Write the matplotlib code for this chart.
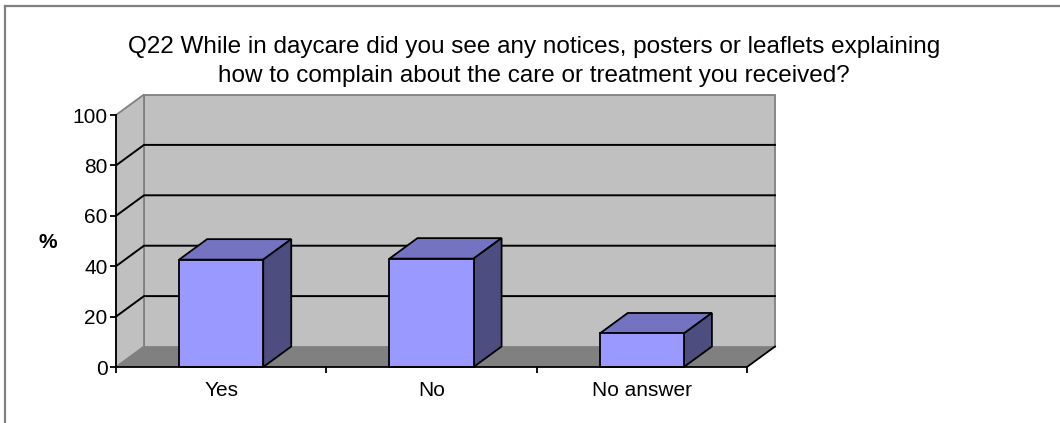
import numpy as np
import matplotlib
matplotlib.use("Agg")
import matplotlib.pyplot as plt
from matplotlib.patches import Polygon
from matplotlib.lines import Line2D

plt.rcParams['font.family'] = ['Liberation Sans', 'DejaVu Sans']

# data
categories = ["Yes", "No", "No answer"]
values = [42.6, 43.0, 13.3]
yticks = [0, 20, 40, 60, 80, 100]
title = ("Q22 While in daycare did you see any notices, posters or leaflets explaining\n"
         "how to complain about the care or treatment you received?")

# colours
front_c = "#9999FF"
top_c = "#7373C2"
side_c = "#4D4D80"
wall_c = "#C0C0C0"
floor_c = "#808080"
edge_gray = "#808080"

W, H = 1060, 423
fig = plt.figure(figsize=(W / 100, H / 100), dpi=100)

# outer frame (top and left visible)
fig.add_artist(Line2D([5 / W, 5 / W], [0, 1 - 6 / H], color=edge_gray, lw=1.6))
fig.add_artist(Line2D([5 / W, 1], [1 - 6 / H, 1 - 6 / H], color=edge_gray, lw=1.6))

ax = fig.add_axes([116 / W, 1 - 367 / H, 631 / W, 252 / H])
ax.set_xlim(0, len(categories))
ax.set_ylim(0, 100)
ax.patch.set_visible(False)

# depth of the 3d box in data units
DX = 28 / (631 / len(categories))
DY = 20.5 / 2.52
n = len(categories)
lw = 1.3

# walls and floor
ax.add_patch(Polygon([(0, 0), (n, 0), (n + DX, DY), (DX, DY)], closed=True,
                     fc=floor_c, ec="none", clip_on=False, zorder=1))
ax.add_patch(Polygon([(DX, DY), (n + DX, DY), (n + DX, 100 + DY), (DX, 100 + DY)], closed=True,
                     fc=wall_c, ec=edge_gray, lw=lw, clip_on=False, zorder=1))
ax.add_patch(Polygon([(0, 0), (DX, DY), (DX, 100 + DY), (0, 100)], closed=True,
                     fc=wall_c, ec=edge_gray, lw=lw, clip_on=False, zorder=1))

# gridlines on left and back walls
for v in yticks[1:-1]:
    ax.plot([0, DX, n + DX], [v, v + DY, v + DY], color="black", lw=1.4,
            clip_on=False, zorder=2)

# floor right edge
ax.plot([n, n + DX], [0, DY], color="black", lw=lw, clip_on=False, zorder=2)

# bars
x = np.arange(n) + 0.5
bw = 0.4
ax.bar(x, values, width=bw, color=front_c, edgecolor="black", lw=lw, zorder=4, clip_on=False)
for xi, v in zip(x, values):
    l, r = xi - bw / 2, xi + bw / 2
    ax.add_patch(Polygon([(l, v), (r, v), (r + DX, v + DY), (l + DX, v + DY)], closed=True,
                         fc=top_c, ec="black", lw=lw, clip_on=False, zorder=3))
    ax.add_patch(Polygon([(r, 0), (r + DX, DY), (r + DX, v + DY), (r, v)], closed=True,
                         fc=side_c, ec="black", lw=lw, clip_on=False, zorder=3))

# axes
for s in ["top", "right"]:
    ax.spines[s].set_visible(False)
for s in ["left", "bottom"]:
    ax.spines[s].set_color("black")
    ax.spines[s].set_linewidth(lw)
    ax.spines[s].set_zorder(5)

ax.set_yticks(yticks)
ax.tick_params(axis="y", length=4, width=lw, pad=2, labelsize=15)
ax.set_xticks(np.arange(n + 1))
ax.set_xticklabels([])
ax.tick_params(axis="x", which="major", length=4, width=lw)
ax.set_xticks(x, minor=True)
ax.set_xticklabels(categories, minor=True)
ax.tick_params(axis="x", which="minor", length=0, pad=10, labelsize=15)

fig.text(47.7 / W, 1 - 242 / H, "%", fontsize=15, fontweight="bold", ha="center", va="center")
fig.text(534 / W, 1 - 82.3 / H, title, fontsize=17.5, ha="center", va="baseline",
         linespacing=1.4, multialignment="center")

fig.savefig("out.png", dpi=100)
